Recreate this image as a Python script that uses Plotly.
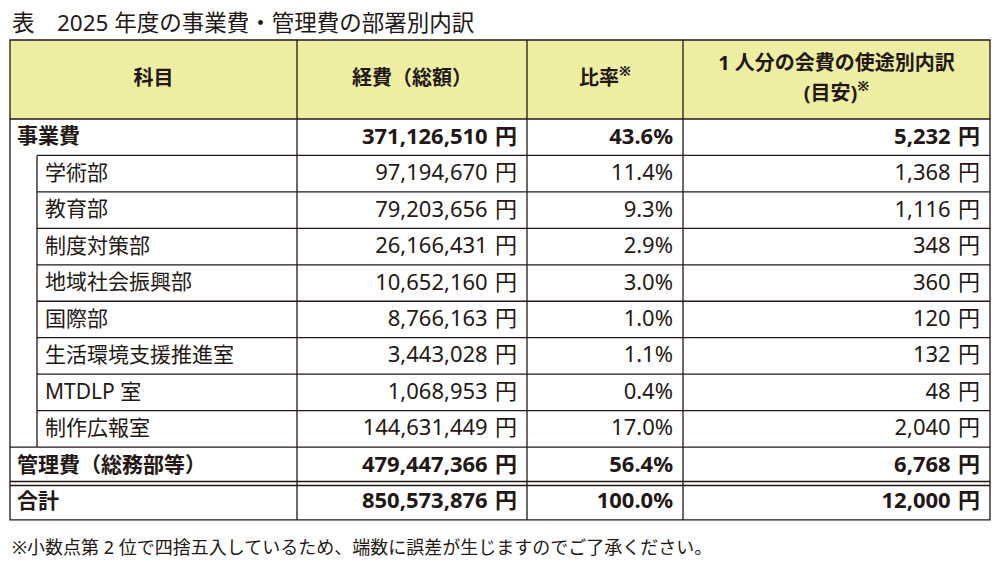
"""Table: 2025 breakdown of program / admin costs by department"""

import plotly.graph_objects as go

title = "表\u30002025 年度の事業費・管理費の部署別内訳"
note = "※小数点第 2 位で四捨五入しているため、端数に誤差が生じますのでご了承ください。"
headers = [
    "科目",
    "経費（総額）",
    "比率<sup>※</sup>",
    "1 人分の会費の使途別内訳<br>(目安)<sup>※</sup>",
]
items = [
    "事業費",
    "学術部",
    "教育部",
    "制度対策部",
    "地域社会振興部",
    "国際部",
    "生活環境支援推進室",
    "MTDLP 室",
    "制作広報室",
    "管理費（総務部等）",
    "合計",
]
levels = [0, 1, 1, 1, 1, 1, 1, 1, 1, 0, 0]
amounts = [
    371126510, 97194670, 79203656, 26166431, 10652160, 8766163,
    3443028, 1068953, 144631449, 479447366, 850573876,
]
ratios = [43.6, 11.4, 9.3, 2.9, 3.0, 1.0, 1.1, 0.4, 17.0, 56.4, 100.0]
per_person = [5232, 1368, 1116, 348, 360, 120, 132, 48, 2040, 6768, 12000]

# layout (pixel units on the hidden axes)
W, H = 995, 567
COL_EDGES = [10, 297, 527, 683, 990]
INDENT = 37
TOP, HEAD_BOTTOM, ROW_H = 40, 119, 36.45
HEAD_LINE_GAP = 30
INK = "#231815"
HEAD_FILL = "#EEEEA2"
FONT = "Noto Sans, Noto Sans CJK JP"
LINE_W = 1.3

n = len(items)
row_y = [HEAD_BOTTOM + (i + 0.5) * ROW_H + 1 for i in range(n)]
bottom = HEAD_BOTTOM + n * ROW_H


def bold_if(text, lvl):
    return f"<b>{text}</b>" if lvl == 0 else text


fig = go.Figure()

# header labels, multi-line ones spread out line by line
head_mid = (TOP + HEAD_BOTTOM) / 2
hx, hy, ht = [], [], []
for i, h in enumerate(headers):
    parts = h.split("<br>")
    for j, p in enumerate(parts):
        hx.append((COL_EDGES[i] + COL_EDGES[i + 1]) / 2)
        hy.append(head_mid + (j - (len(parts) - 1) / 2) * HEAD_LINE_GAP)
        ht.append(f"<b>{p}</b>")
fig.add_scatter(
    x=hx,
    y=hy,
    mode="text",
    text=ht,
    textposition="middle center",
    textfont={"family": FONT, "size": 20, "color": INK},
)

# item column
fig.add_scatter(
    x=[17 if lv == 0 else 45 for lv in levels],
    y=row_y,
    mode="text",
    text=[bold_if(t, lv) for t, lv in zip(items, levels)],
    textposition="middle right",
    textfont={"family": FONT, "size": 21, "color": INK},
)

# numeric columns, right aligned
num_cols = [
    [f"{v:,}\u2004円" for v in amounts],
    [f"{v:.1f}%" for v in ratios],
    [f"{v:,}\u2004円" for v in per_person],
]
for c, col in enumerate(num_cols):
    fig.add_scatter(
        x=[COL_EDGES[c + 2] - 10] * n,
        y=row_y,
        mode="text",
        text=[bold_if(t, lv) for t, lv in zip(col, levels)],
        textposition="middle left",
        textfont={"family": FONT, "size": 22, "color": INK},
    )

line = {"color": INK, "width": LINE_W}
shapes = [
    dict(type="rect", x0=COL_EDGES[0], x1=COL_EDGES[-1], y0=TOP, y1=HEAD_BOTTOM,
         fillcolor=HEAD_FILL, line={"width": 0}, layer="below"),
    dict(type="rect", x0=COL_EDGES[0], x1=COL_EDGES[-1], y0=TOP, y1=bottom, line=line),
    dict(type="line", x0=COL_EDGES[0], x1=COL_EDGES[-1], y0=HEAD_BOTTOM, y1=HEAD_BOTTOM, line=line),
]
for xe in COL_EDGES[1:-1]:
    shapes.append(dict(type="line", x0=xe, x1=xe, y0=TOP, y1=bottom, line=line))

# row separators: sub rows start at the indent, last one is a double rule
sub_rows = [i for i, lv in enumerate(levels) if lv == 1]
for k in range(1, n):
    yb = HEAD_BOTTOM + k * ROW_H
    if k == n - 1:
        for off in (-2, 2):
            shapes.append(dict(type="line", x0=COL_EDGES[0], x1=COL_EDGES[-1],
                               y0=yb + off, y1=yb + off, line=line))
        continue
    x0 = INDENT if levels[k] == 1 else COL_EDGES[0]
    shapes.append(dict(type="line", x0=x0, x1=COL_EDGES[-1], y0=yb, y1=yb, line=line))
shapes.append(dict(type="line", x0=INDENT, x1=INDENT,
                   y0=HEAD_BOTTOM + sub_rows[0] * ROW_H,
                   y1=HEAD_BOTTOM + (sub_rows[-1] + 1) * ROW_H, line=line))

fig.update_layout(
    width=W,
    height=H,
    autosize=False,
    margin={"l": 0, "r": 0, "t": 0, "b": 0},
    paper_bgcolor="white",
    plot_bgcolor="white",
    showlegend=False,
    xaxis={"range": [0, W], "visible": False, "fixedrange": True},
    yaxis={"range": [H, 0], "visible": False, "fixedrange": True},
    shapes=shapes,
    annotations=[
        dict(x=10, y=22, xref="x", yref="y", text=title, showarrow=False,
             xanchor="left", yanchor="middle",
             font={"family": FONT, "size": 22.5, "color": INK}),
        dict(x=10, y=547, xref="x", yref="y", text=note, showarrow=False,
             xanchor="left", yanchor="middle",
             font={"family": FONT, "size": 18, "color": INK}),
    ],
    hovermode=False,
)

# drop the browser's default body margin so the figure sits at the page origin
fig.write_html(
    "out.html",
    config={"displayModeBar": False},
    post_script="document.body.style.margin='0';",
)
